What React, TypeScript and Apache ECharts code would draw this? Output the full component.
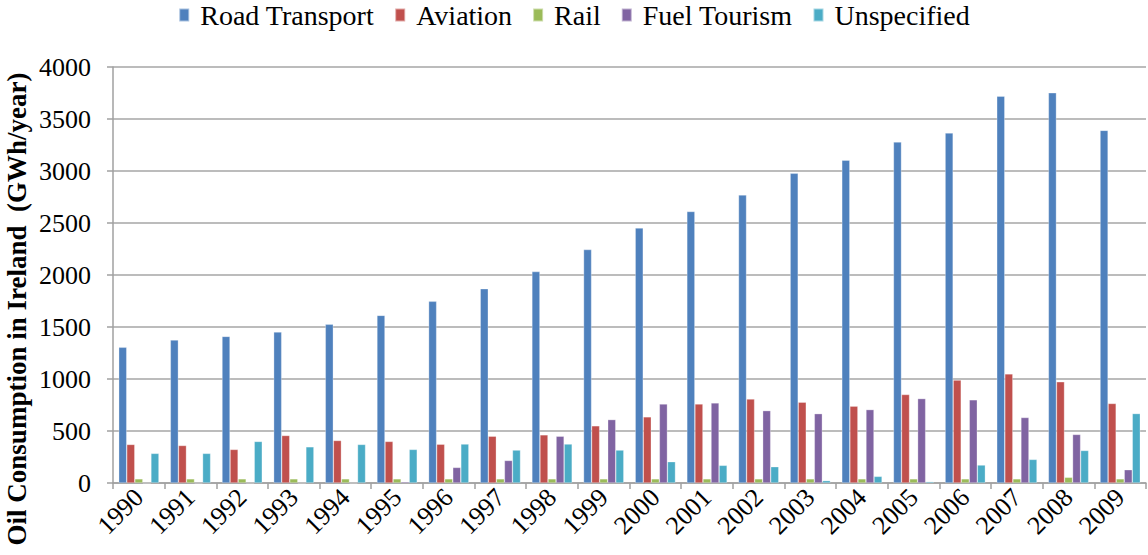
import React, { useEffect, useRef } from "react";
import * as echarts from "echarts";

const years = ["1990","1991","1992","1993","1994","1995","1996","1997","1998","1999","2000","2001","2002","2003","2004","2005","2006","2007","2008","2009"];
const roadTransport = [1305,1375,1410,1452,1526,1612,1747,1868,2033,2245,2452,2611,2770,2978,3104,3279,3366,3720,3752,3391];
const aviation = [371,361,323,457,409,400,373,450,463,550,636,760,808,777,739,851,990,1049,973,765];
const rail = [40,40,40,40,40,40,40,40,40,40,40,40,40,40,40,40,40,40,55,40];
const fuelTourism = [0,0,0,0,0,12,150,217,450,610,760,770,696,667,706,812,800,630,467,128];
const unspecified = [285,285,400,348,371,323,375,317,375,317,205,170,157,23,64,13,173,227,313,668];
const yTicks = { min: 0, max: 4000, interval: 500 };

const seriesDefs = [
  { name: "Road Transport", data: roadTransport, color: "#4F81BD" },
  { name: "Aviation", data: aviation, color: "#C0504D" },
  { name: "Rail", data: rail, color: "#9BBB59" },
  { name: "Fuel Tourism", data: fuelTourism, color: "#8064A2" },
  { name: "Unspecified", data: unspecified, color: "#4BACC6" },
];

const FONT = "Liberation Serif";

export default function App() {
  const ref = useRef<HTMLDivElement>(null);
  useEffect(() => {
    document.body.style.margin = "0";
    if (!ref.current) return;
    const chart = echarts.init(ref.current, undefined, { renderer: "svg" });
    chart.setOption({
      animation: false,
      backgroundColor: "#ffffff",
      textStyle: { fontFamily: FONT },
      legend: {
        top: -4,
        left: "center",
        itemWidth: 10,
        itemHeight: 13,
        itemGap: 20,
        icon: "rect",
        formatter: (name: string) => `{t|${name}}`,
        textStyle: {
          fontFamily: FONT,
          fontSize: 28,
          color: "#000",
          rich: { t: { fontFamily: FONT, fontSize: 28, color: "#000", padding: [0, 0, 0, 6] } },
        },
        data: seriesDefs.map((s) => s.name),
      },
      grid: { left: 113, right: 2, top: 67, bottom: 72, containLabel: false },
      xAxis: {
        type: "category",
        data: years,
        boundaryGap: true,
        axisLine: { show: true, lineStyle: { color: "#A0A0A0", width: 1.5 } },
        axisTick: { show: true, alignWithLabel: false, length: 6, lineStyle: { color: "#A0A0A0", width: 1.5 } },
        axisLabel: { interval: 0, rotate: 45, fontFamily: FONT, fontSize: 26, color: "#000", margin: 10 },
        splitLine: { show: false },
      },
      yAxis: {
        type: "value",
        min: yTicks.min,
        max: yTicks.max,
        interval: yTicks.interval,
        axisLine: { show: true, lineStyle: { color: "#A0A0A0", width: 1.5 } },
        axisTick: { show: true, inside: false, length: 6, lineStyle: { color: "#A0A0A0", width: 1.5 } },
        axisLabel: { fontFamily: FONT, fontSize: 26, color: "#000", margin: 22, formatter: (v: number) => String(v) },
        splitLine: { show: true, lineStyle: { color: "#A6A6A6", width: 1.5 } },
      },
      graphic: [
        {
          type: "text",
          x: 17,
          y: 309,
          rotation: Math.PI / 2,
          style: {
            text: "Oil Consumption in Ireland  (GWh/year)",
            font: `bold 27px "${FONT}"`,
            fill: "#000",
            textAlign: "center",
            textVerticalAlign: "middle",
          },
        },
      ],
      series: seriesDefs.map((s) => ({
        name: s.name,
        type: "bar",
        data: s.data,
        barGap: "0%",
        barCategoryGap: "22%",
        itemStyle: { color: s.color, borderColor: "rgba(255,255,255,0.5)", borderWidth: 0.6 },
      })),
    });
    return () => chart.dispose();
  }, []);
  return <div ref={ref} style={{ width: 1148, height: 555 }} />;
}
